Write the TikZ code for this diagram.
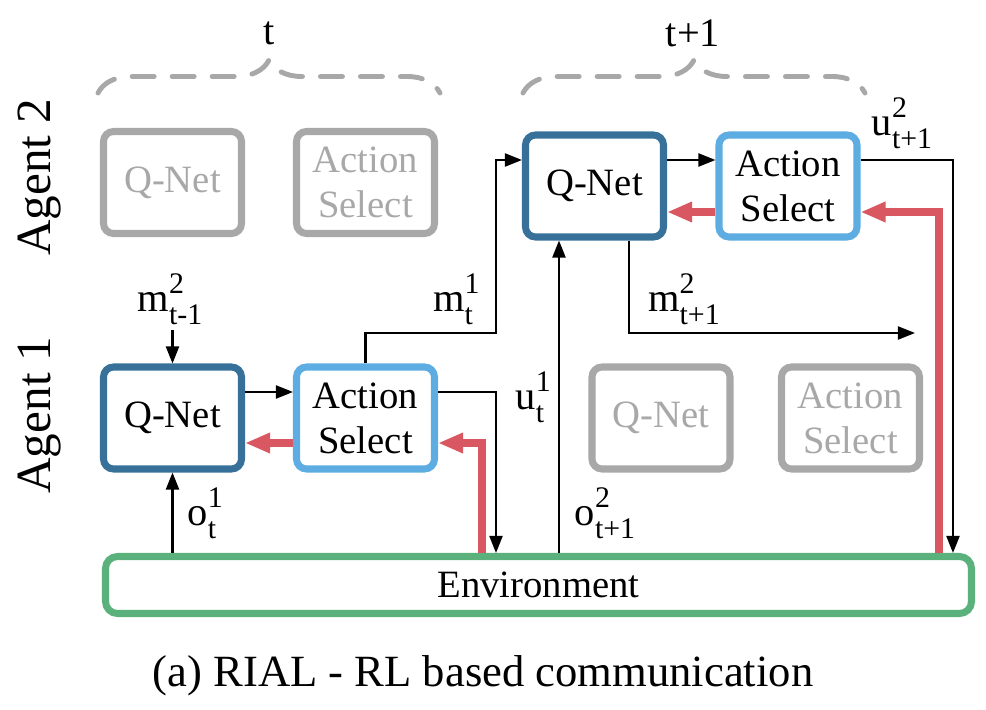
\documentclass[tikz,border=0pt]{standalone}
\usepackage{amsmath}
\usepackage{fontspec}
\setmainfont{LiberationSerif}[Extension=.ttf, UprightFont=*-Regular, BoldFont=*-Bold, ItalicFont=*-Italic, BoldItalicFont=*-BoldItalic]
\usepackage{tikz}
\usetikzlibrary{arrows.meta, calc, decorations.pathreplacing, positioning}
\definecolor{qblue}{RGB}{55,113,154}
\definecolor{ablue}{RGB}{93,173,226}
\definecolor{envgreen}{RGB}{90,177,123}
\definecolor{gradred}{RGB}{217,87,96}
\definecolor{fadegray}{RGB}{168,168,168}
\newcommand{\commsym}[3]{#1{\fontsize{8.5}{9}\selectfont\rlap{\raisebox{0.62em}{#2}}\raisebox{-0.42em}{#3}}}
\tikzset{
  qnet/.style    ={draw=qblue, fill=white, rounded corners=1mm, line width=2pt, minimum width=13.8mm, minimum height=10.2mm, inner sep=0pt, align=center, font=\fontsize{11}{12.8}\selectfont},
  actsel/.style  ={qnet, draw=ablue},
  faded/.style   ={qnet, draw=fadegray, text=fadegray},
  envbox/.style  ={draw=envgreen, fill=white, rounded corners=1.2mm, line width=2pt, minimum width=86.6mm, minimum height=5.7mm, inner sep=0pt, font=\fontsize{11}{13}\selectfont},
  flow/.style    ={-{Triangle[length=1.7mm, width=1.3mm]}, line width=0.6pt},   % forward signal
  grad/.style    ={-{Triangle[length=2.5mm, width=1.9mm]}, line width=2pt, gradred}, % gradient back
  brc/.style     ={decorate, decoration={brace, amplitude=3.3mm}, fadegray, line width=1.4pt, line cap=round, dash pattern=on 2.2mm off 1.8mm},
  sig/.style     ={inner sep=0pt, font=\fontsize{11.5}{13}\selectfont},
  agentlbl/.style={rotate=90, font=\fontsize{14}{16}\selectfont},
  capt/.style    ={font=\fontsize{12.7}{15}\selectfont},
}

\begin{document}
\begin{tikzpicture}
  \useasboundingbox (0,0) rectangle (9.86,-7.10);

  % time steps
  \draw[brc] (0.98,-0.93) -- (4.40,-0.93);
  \draw[brc] (5.23,-0.93) -- (8.65,-0.93);
  \node[sig] (tnow)  at (2.69,-0.33) {t};
  \node[sig] (tnext) at (6.93,-0.33) {t+1};

  % agents
  \node[agentlbl] (ag2) at (0.40,-1.77) {Agent 2};
  \node[agentlbl] (ag1) at (0.40,-4.15) {Agent 1};

  % agent 2
  \node[faded]  (q2old)  at (1.725,-1.825) {Q-Net};
  \node[faded]  (as2old) at (3.655,-1.825) {Action\\Select};
  \node[qnet]   (q2)     at (5.945,-1.86)  {Q-Net};
  \node[actsel] (as2)    at (7.88,-1.86)   {Action\\Select};

  % agent 1
  \node[qnet]   (q1)     at (1.725,-4.18) {Q-Net};
  \node[actsel] (as1)    at (3.655,-4.18) {Action\\Select};
  \node[faded]  (q1new)  at (6.61,-4.18)  {Q-Net};
  \node[faded]  (as1new) at (8.505,-4.18) {Action\\Select};

  \node[envbox] (env) at (5.385,-5.85) {Environment};

  % signal labels
  \node[sig] (mprev) at (1.70,-2.99) {\commsym{m}{2}{t-1}};
  \node[sig] (m1)    at (4.53,-2.99) {\commsym{m}{1}{t}};
  \node[sig] (o1)    at (2.02,-5.13) {\commsym{o}{1}{t}};
  \node[sig] (u1)    at (5.30,-3.97) {\commsym{u}{1}{t}};
  \node[sig] (o2)    at (6.05,-5.13) {\commsym{o}{2}{t+1}};
  \node[sig] (m2)    at (6.84,-2.99) {\commsym{m}{2}{t+1}};
  \node[sig] (u2)    at (9.02,-1.23) {\commsym{u}{2}{t+1}};

  \coordinate (mstart) at (1.725,-3.30);
  \coordinate (m1turn) at (4.96,-3.33);
  \coordinate (m2end)  at (9.15,-3.33);
  \coordinate (gx1) at (4.82,0);
  \coordinate (ox2) at (5.59,0);
  \coordinate (gx2) at (9.39,0);
  \coordinate (ux2) at (9.53,0);

  % agent 1 at t
  \draw[flow] (mstart) -- (q1.north);
  \draw[flow] (q1.south |- env.north) -- (q1.south);
  \draw[flow] ([yshift=2.6mm]q1.east) -- ([yshift=2.6mm]as1.west);
  \draw[grad] ([yshift=-2.5mm]as1.west) -- ([yshift=-2.5mm]q1.east);
  \draw[flow] (as1.north) |- (m1turn) |- ([yshift=2.6mm]q2.west);
  \draw[flow] ([yshift=2.6mm]as1.east) -| (m1turn |- env.north);
  \draw[grad] (gx1 |- env.north) |- ([yshift=-2.5mm]as1.east);

  % agent 2 at t+1
  \draw[flow] (ox2 |- env.north) -- (ox2 |- q2.south);
  \draw[flow] ([yshift=2.6mm]q2.east) -- ([yshift=2.6mm]as2.west);
  \draw[grad] ([yshift=-2.6mm]as2.west) -- ([yshift=-2.6mm]q2.east);
  \draw[flow] ([xshift=3.45mm]q2.south) |- (m2end);
  \draw[flow] ([yshift=2.6mm]as2.east) -| (ux2 |- env.north);
  \draw[grad] (gx2 |- env.north) |- ([yshift=-2.6mm]as2.east);

  \node[capt, anchor=base] (cap) at (4.83,-6.87) {(a) RIAL - RL based communication};
\end{tikzpicture}
\end{document}
